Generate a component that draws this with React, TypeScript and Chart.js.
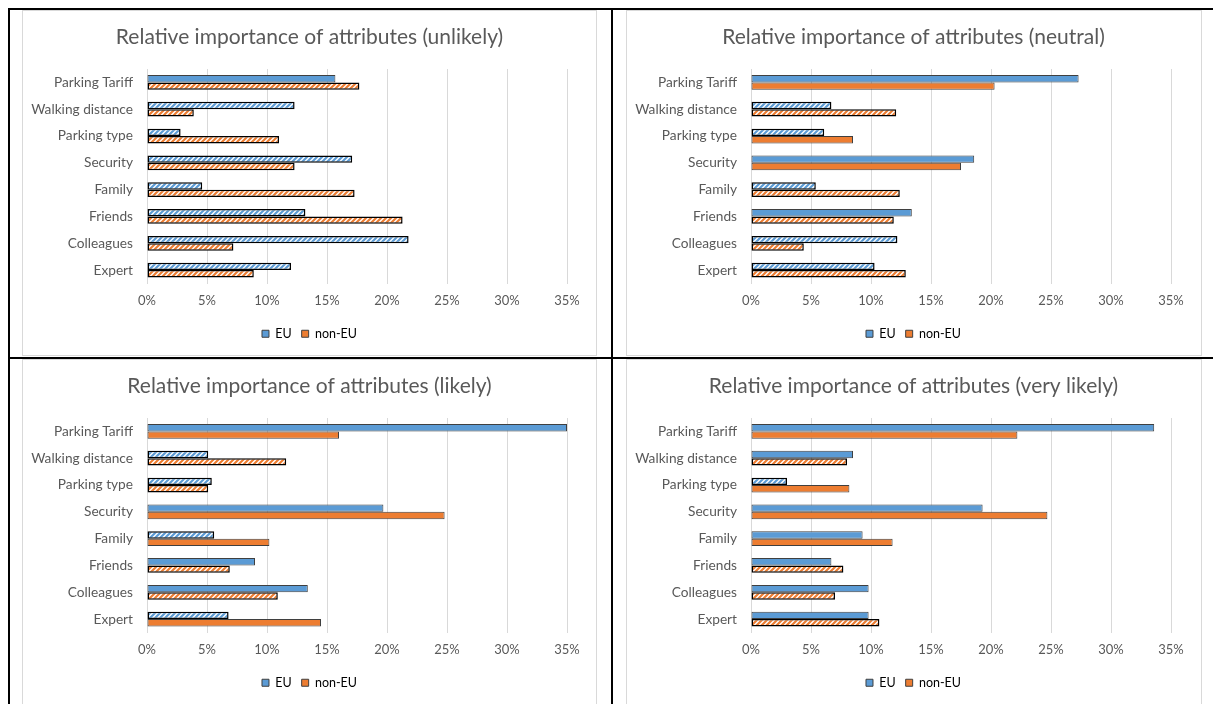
import React, { useEffect, useRef } from "react";
import { Chart, registerables } from "chart.js";

Chart.register(...registerables);

// Attribute names, top to bottom
const categories = [
  "Parking Tariff",
  "Walking distance",
  "Parking type",
  "Security",
  "Family",
  "Friends",
  "Colleagues",
  "Expert",
];

// Relative importance (%) per respondent group; "solid" flags mark filled bars, others are hatched
const unlikelyEU = [15.7, 12.3, 2.8, 17.1, 4.6, 13.2, 21.8, 12.0];
const unlikelyNonEU = [17.7, 3.9, 11.0, 12.3, 17.3, 21.3, 7.2, 8.9];
const unlikelyEUSolid = [true, false, false, false, false, false, false, false];
const unlikelyNonEUSolid = [false, false, false, false, false, false, false, false];

const neutralEU = [27.3, 6.7, 6.1, 18.6, 5.4, 13.4, 12.2, 10.3];
const neutralNonEU = [20.3, 12.1, 8.5, 17.5, 12.4, 11.9, 4.4, 12.9];
const neutralEUSolid = [true, false, false, true, false, true, false, false];
const neutralNonEUSolid = [true, false, true, true, false, false, false, false];

const likelyEU = [35.0, 5.1, 5.4, 19.7, 5.6, 9.0, 13.4, 6.8];
const likelyNonEU = [16.0, 11.6, 5.1, 24.8, 10.2, 6.9, 10.9, 14.5];
const likelyEUSolid = [true, false, false, true, false, true, true, false];
const likelyNonEUSolid = [true, false, false, true, true, false, false, true];

const veryLikelyEU = [33.6, 8.5, 3.0, 19.3, 9.3, 6.7, 9.8, 9.8];
const veryLikelyNonEU = [22.2, 8.0, 8.2, 24.7, 11.8, 7.7, 7.0, 10.7];
const veryLikelyEUSolid = [true, true, false, true, true, true, true, true];
const veryLikelyNonEUSolid = [true, false, true, true, true, false, false, false];

const axisMin = 0;
const axisMax = 35;
const axisStep = 5;

const EU_COLOR = "#5B9BD5";
const NON_EU_COLOR = "#ED7D31";
const TEXT_COLOR = "#595959";
const GRID_COLOR = "#d9d9d9";
const FONT = "Lato, 'Open Sans', sans-serif";

function makeHatch(ctx: CanvasRenderingContext2D, color: string) {
  const s = 5;
  const tile = document.createElement("canvas");
  tile.width = s;
  tile.height = s;
  const g = tile.getContext("2d")!;
  g.fillStyle = "#ffffff";
  g.fillRect(0, 0, s, s);
  g.strokeStyle = color;
  g.lineWidth = 2.2;
  g.beginPath();
  g.moveTo(-1, 1);
  g.lineTo(1, -1);
  g.moveTo(0, s);
  g.lineTo(s, 0);
  g.moveTo(s - 1, s + 1);
  g.lineTo(s + 1, s - 1);
  g.stroke();
  return ctx.createPattern(tile, "repeat")!;
}

type ChartProps = {
  title: string;
  eu: number[];
  nonEu: number[];
  euSolid: boolean[];
  nonEuSolid: boolean[];
};

function AttributeChart({ title, eu, nonEu, euSolid, nonEuSolid }: ChartProps) {
  const ref = useRef<HTMLCanvasElement>(null);

  useEffect(() => {
    const canvas = ref.current!;
    const ctx = canvas.getContext("2d")!;
    const euHatch = makeHatch(ctx, EU_COLOR);
    const nonEuHatch = makeHatch(ctx, NON_EU_COLOR);

    const series = (
      label: string,
      values: number[],
      solid: boolean[],
      color: string,
      hatch: CanvasPattern
    ) => ({
      label,
      data: values,
      backgroundColor: values.map((_, i) => (solid[i] ? color : hatch)),
      borderColor: values.map((_, i) => (solid[i] ? "#3f3f3f" : "#000000")),
      borderWidth: values.map((_, i) => (solid[i] ? 1 : 1.5)),
      borderSkipped: false,
      categoryPercentage: 0.55,
      barPercentage: 1,
    });

    const chart = new Chart(ctx, {
      type: "bar",
      data: {
        labels: categories,
        datasets: [
          series("EU", eu, euSolid, EU_COLOR, euHatch),
          series("non-EU", nonEu, nonEuSolid, NON_EU_COLOR, nonEuHatch),
        ] as any,
      },
      options: {
        indexAxis: "y",
        responsive: false,
        animation: false,
        layout: { padding: { left: 0, right: 0, top: 0, bottom: 5 } },
        plugins: {
          title: {
            display: true,
            text: title,
            color: TEXT_COLOR,
            font: { family: FONT, size: 21, weight: "normal" },
            padding: { top: 13.4, bottom: 19.4 },
          },
          legend: {
            position: "bottom",
            labels: {
              boxWidth: 7,
              boxHeight: 7,
              padding: 10,
              color: TEXT_COLOR,
              font: { family: FONT, size: 12.5 },
              generateLabels: () => [
                {
                  text: "EU",
                  fillStyle: EU_COLOR,
                  strokeStyle: "#3f3f3f",
                  lineWidth: 1,
                  hidden: false,
                  datasetIndex: 0,
                },
                {
                  text: "non-EU",
                  fillStyle: NON_EU_COLOR,
                  strokeStyle: "#3f3f3f",
                  lineWidth: 1,
                  hidden: false,
                  datasetIndex: 1,
                },
              ],
            },
          },
          tooltip: { enabled: false },
        },
        scales: {
          x: {
            min: axisMin,
            max: axisMax,
            ticks: {
              stepSize: axisStep,
              callback: (v: any) => `${v}%`,
              padding: 10,
              color: TEXT_COLOR,
              font: { family: FONT, size: 13 },
            },
            grid: { color: GRID_COLOR, drawTicks: false },
            border: { display: false },
            afterFit: (s: any) => {
              s.height = 34;
            },
          },
          y: {
            grid: { display: false, drawTicks: false },
            border: { display: false },
            ticks: {
              padding: 14,
              color: TEXT_COLOR,
              font: { family: FONT, size: 13.7 },
            },
            afterFit: (s: any) => {
              s.width = 124;
            },
          },
          // empty right-hand margin axis so title and legend stay centred on the whole box
          yRight: {
            type: "category",
            position: "right",
            grid: { display: false, drawTicks: false },
            border: { display: false },
            ticks: { display: false },
            afterFit: (s: any) => {
              s.width = 29;
            },
          },
        },
      } as any,
    });
    return () => chart.destroy();
  }, [title, eu, nonEu, euSolid, nonEuSolid]);

  return <canvas ref={ref} width={573} height={344} style={{ display: "block" }} />;
}

const boxStyle = (left: number, top: number, width: number): React.CSSProperties => ({
  position: "absolute",
  left,
  top,
  width,
  height: 346,
  border: `1px solid ${GRID_COLOR}`,
  boxSizing: "border-box",
  background: "#fff",
  overflow: "hidden",
});

const line = (left: number, top: number, width: number, height: number): React.CSSProperties => ({
  position: "absolute",
  left,
  top,
  width,
  height,
  background: "#000",
});

export default function App() {
  return (
    <div
      style={{
        position: "relative",
        width: 1213,
        height: 704,
        overflow: "hidden",
        background: "#fff",
      }}
    >
      <style>{"html,body{margin:0;padding:0;overflow:hidden;background:#fff}"}</style>
      <div style={boxStyle(22, 10, 575)}>
        <AttributeChart
          title="Relative importance of attributes (unlikely)"
          eu={unlikelyEU}
          nonEu={unlikelyNonEU}
          euSolid={unlikelyEUSolid}
          nonEuSolid={unlikelyNonEUSolid}
        />
      </div>
      <div style={boxStyle(626, 10, 576)}>
        <AttributeChart
          title="Relative importance of attributes (neutral)"
          eu={neutralEU}
          nonEu={neutralNonEU}
          euSolid={neutralEUSolid}
          nonEuSolid={neutralNonEUSolid}
        />
      </div>
      <div style={boxStyle(22, 359, 575)}>
        <AttributeChart
          title="Relative importance of attributes (likely)"
          eu={likelyEU}
          nonEu={likelyNonEU}
          euSolid={likelyEUSolid}
          nonEuSolid={likelyNonEUSolid}
        />
      </div>
      <div style={boxStyle(626, 359, 576)}>
        <AttributeChart
          title="Relative importance of attributes (very likely)"
          eu={veryLikelyEU}
          nonEu={veryLikelyNonEU}
          euSolid={veryLikelyEUSolid}
          nonEuSolid={veryLikelyNonEUSolid}
        />
      </div>
      <div style={line(8, 8, 1205, 2)} />
      <div style={line(8, 8, 2, 696)} />
      <div style={line(611, 8, 2, 696)} />
      <div style={line(8, 357, 1205, 2)} />
    </div>
  );
}
